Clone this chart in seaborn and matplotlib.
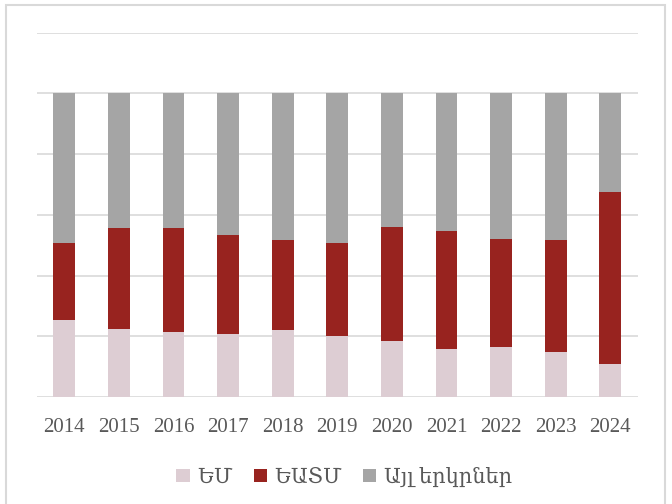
import numpy as np
import pandas as pd
import matplotlib.pyplot as plt
import seaborn as sns
from matplotlib.patches import Patch, Rectangle

# Data (shares in %)
years = ["2014", "2015", "2016", "2017", "2018", "2019", "2020", "2021", "2022", "2023", "2024"]
eu = [25.3, 22.5, 21.3, 20.9, 22.2, 20.0, 18.4, 15.8, 16.6, 14.8, 11.0]
eaeu = [25.3, 33.1, 34.3, 32.6, 29.5, 30.9, 37.6, 38.9, 35.6, 36.9, 56.4]
other = [100 - a - b for a, b in zip(eu, eaeu)]
series_names = ["ԵՄ", "ԵԱՏՄ", "Այլ երկրներ"]
colors = ["#DDCDD3", "#98231F", "#A5A5A5"]

df = pd.DataFrame({"Year": years, "EU": eu, "EAEU": eaeu, "Other": other})
df["EU_top"] = df["EU"]
df["EAEU_top"] = df["EU"] + df["EAEU"]
df["Other_top"] = df["EU"] + df["EAEU"] + df["Other"]

sns.set_style("white")
fonts = ["Liberation Serif", "DejaVu Serif"]
plt.rcParams["font.family"] = fonts

fig = plt.figure(figsize=(6.72, 5.04), dpi=100)
ax = fig.add_axes([0.055, 0.2123, 0.894, 0.7227])

# stacked bars drawn back to front
for col, c in zip(["Other_top", "EAEU_top", "EU_top"], colors[::-1]):
    sns.barplot(data=df, x="Year", y=col, color=c, width=0.4, ax=ax,
                saturation=1, linewidth=0, zorder=3)

ax.set_ylim(0, 120)
ax.set_yticks(np.arange(0, 121, 20))
ax.set_yticklabels([])
ax.grid(axis="y", color="#D9D9D9", linewidth=1.2, zorder=0)
ax.set_axisbelow(True)
for s in ax.spines.values():
    s.set_visible(False)
ax.set_xlabel("")
ax.set_ylabel("")
ax.tick_params(axis="both", length=0)
ax.tick_params(axis="x", pad=15, labelsize=15, labelcolor="#595959")

handles = [Patch(facecolor=c, edgecolor="none") for c in colors]
fig.legend(handles, series_names, loc="center", bbox_to_anchor=(0.512, 0.052),
           ncol=3, frameon=False, fontsize=15, labelcolor="#595959",
           handlelength=0.65, handleheight=0.65, handletextpad=0.35,
           columnspacing=1.0)

# outer chart frame
fig.patches.append(Rectangle((0.0095, -0.05), 0.9795, 1.04, transform=fig.transFigure,
                             fill=False, edgecolor="#D9D9D9", linewidth=1.5))

fig.savefig("out.png", dpi=100)
